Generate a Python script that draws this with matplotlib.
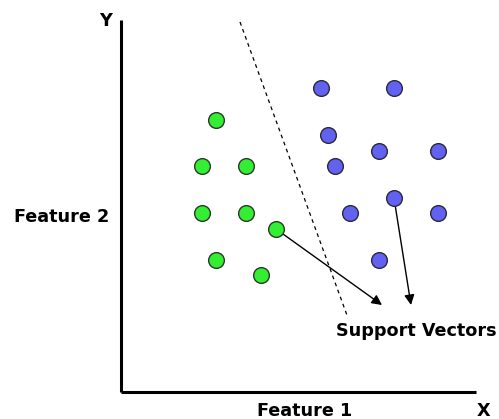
import matplotlib.pyplot as plt

# --- data (pixel-like coordinates, y grows downward) ---
green_x = [216, 202, 246, 202, 246, 276, 216, 261]
green_y = [120, 166, 166, 213, 213, 229, 260, 275]
blue_x = [321, 394, 328, 335, 379, 438, 350, 394, 438, 379]
blue_y = [88, 88, 135, 166, 151, 151, 213, 198, 213, 260]

boundary_x = [240, 348]
boundary_y = [22, 318]

# support vector arrows: (start, end)
arrows = [((276, 229), (382, 305)), ((394, 198), (411, 305))]

W, H = 499, 419
fig = plt.figure(figsize=(W / 100, H / 100), dpi=100)
ax = fig.add_axes([0, 0, 1, 1])
ax.set_xlim(0, W)
ax.set_ylim(H, 0)
ax.axis('off')

font = dict(family='DejaVu Sans', weight='bold', fontsize=12.7)

# axes lines
ax.plot([121.5, 121.5], [20, 392], color='black', lw=2.2, solid_capstyle='butt')
ax.plot([121.5, 476], [392, 392], color='black', lw=2.2, solid_capstyle='butt')

# separating hyperplane
ax.plot(boundary_x, boundary_y, color='black', lw=0.9, linestyle=(0, (3, 3)))

# arrows to support vectors
for (x0, y0), (x1, y1) in arrows:
    ax.annotate('', xy=(x1, y1), xytext=(x0, y0),
                arrowprops=dict(arrowstyle='-|>', color='black', lw=1,
                                mutation_scale=15, shrinkA=0, shrinkB=0))

ax.scatter(green_x, green_y, s=128, color='#33ee33', edgecolors='#2a3a2a', linewidths=1, zorder=3)
ax.scatter(blue_x, blue_y, s=128, color='#6262f2', edgecolors='#2a2a3a', linewidths=1, zorder=3)

ax.text(416, 336, 'Support Vectors', ha='center', va='baseline', **font)
ax.text(61.5, 222, 'Feature 2', ha='center', va='baseline', **font)
ax.text(305, 416, 'Feature 1', ha='center', va='baseline', **font)
ax.text(106, 26, 'Y', ha='center', va='baseline', **font)
ax.text(483, 416, 'X', ha='center', va='baseline', **font)

fig.savefig('out.png', dpi=100)
